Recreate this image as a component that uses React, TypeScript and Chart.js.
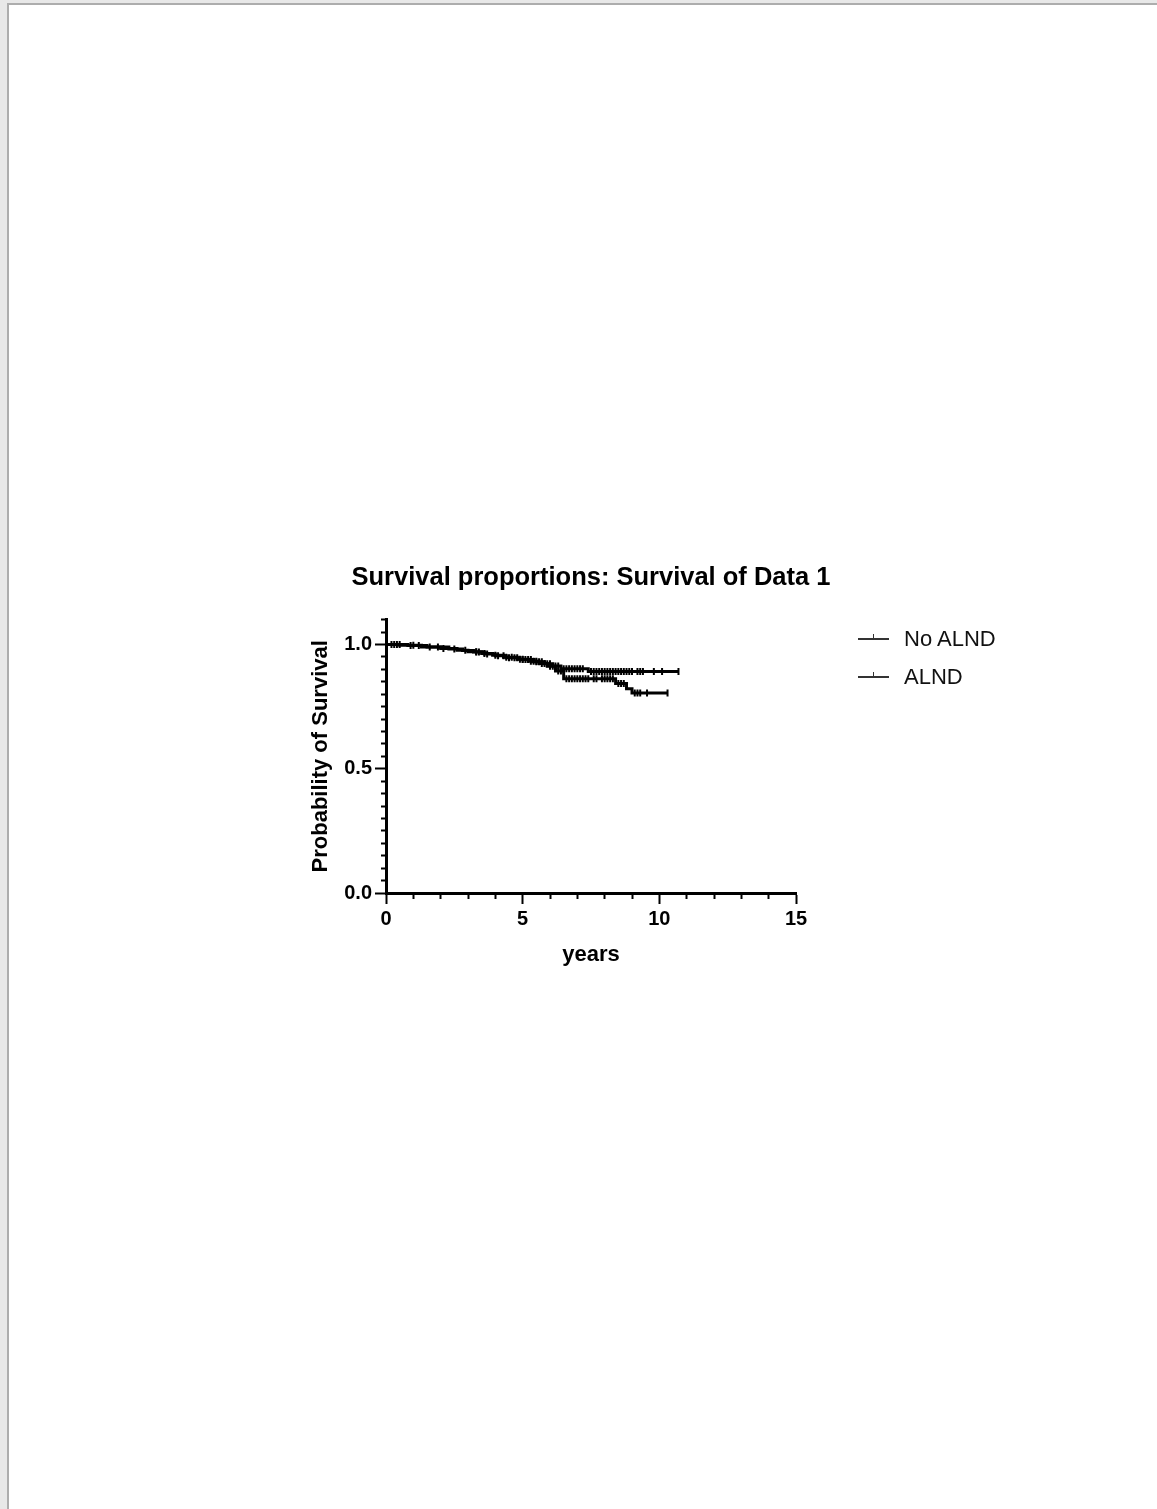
import React, { useEffect, useRef } from 'react';
import { Chart, registerables } from 'chart.js';

Chart.register(...registerables);

const chartTitle = 'Survival proportions: Survival of Data 1';
const xAxisTitle = 'years';
const yAxisTitle = 'Probability of Survival';
const seriesNames = ['No ALND', 'ALND'];

// Kaplan-Meier steps (time in years, survival after the event)
const noAlndEventTimes = [0, 0.8, 1.5, 2.3, 2.8, 3.2, 3.6, 4.0, 4.4, 4.9, 5.4, 5.8, 6.1, 6.4, 7.4];
const noAlndSurvival = [1.0, 0.996, 0.99, 0.982, 0.976, 0.97, 0.962, 0.955, 0.947, 0.939, 0.93, 0.922, 0.913, 0.902, 0.891];
const noAlndCensorTimes = [0.3, 0.5, 0.9, 1.2, 1.9, 2.5, 3.3, 3.4, 3.7, 4.1, 4.3, 4.5, 4.7, 4.8, 5.0, 5.1, 5.2, 5.3, 5.5, 5.6, 5.7, 5.9, 6.0, 6.2, 6.3, 6.5, 6.6, 6.7, 6.8, 6.9, 7.0, 7.1, 7.2, 7.5, 7.6, 7.7, 7.8, 7.9, 8.0, 8.1, 8.2, 8.3, 8.4, 8.5, 8.6, 8.7, 8.8, 8.9, 9.0, 9.2, 9.3, 9.4, 9.8, 10.1, 10.7];

const alndEventTimes = [0, 0.5, 1.3, 2.0, 2.6, 3.0, 3.5, 3.9, 4.3, 4.8, 5.2, 5.6, 5.9, 6.2, 6.5, 8.4, 8.8, 9.0];
const alndSurvival = [1.0, 0.997, 0.99, 0.984, 0.977, 0.971, 0.964, 0.957, 0.949, 0.94, 0.932, 0.923, 0.912, 0.893, 0.862, 0.843, 0.822, 0.805];
const alndCensorTimes = [0.2, 0.4, 1.0, 1.6, 2.1, 2.9, 3.3, 3.6, 4.0, 4.4, 4.6, 4.9, 5.0, 5.3, 5.4, 5.5, 5.7, 5.8, 6.0, 6.1, 6.3, 6.4, 6.6, 6.7, 6.8, 6.9, 7.0, 7.1, 7.2, 7.3, 7.4, 7.6, 7.7, 7.9, 8.0, 8.1, 8.2, 8.3, 8.5, 8.6, 8.7, 9.1, 9.2, 9.3, 9.55, 10.3];

const xMin = 0;
const xMax = 15;
const xMinorStep = 1;
const xLabelStep = 5;
const yMin = 0;
const yMax = 1.1;
const yMinorStep = 0.05;
const yLabelStep = 0.5;

const FONT = '"Liberation Sans", Arial, Helvetica, sans-serif';

function survivalAt(times: number[], surv: number[], t: number) {
  let v = surv[0];
  for (let i = 0; i < times.length; i++) {
    if (times[i] <= t + 1e-9) v = surv[i];
  }
  return v;
}

function curvePoints(times: number[], surv: number[], censors: number[]) {
  const pts = times.map((t, i) => ({ x: t, y: surv[i] }));
  const end = Math.max(...censors);
  if (end > times[times.length - 1]) pts.push({ x: end, y: surv[surv.length - 1] });
  return pts;
}

function censorPoints(times: number[], surv: number[], censors: number[]) {
  return censors.map((t) => ({ x: t, y: survivalAt(times, surv, t) }));
}

function isMultiple(v: number, step: number) {
  const r = v / step;
  return Math.abs(r - Math.round(r)) < 1e-6;
}

export default function App() {
  const canvasRef = useRef<HTMLCanvasElement | null>(null);

  useEffect(() => {
    if (!canvasRef.current) return;
    const groups = [
      { name: seriesNames[0], t: noAlndEventTimes, s: noAlndSurvival, c: noAlndCensorTimes },
      { name: seriesNames[1], t: alndEventTimes, s: alndSurvival, c: alndCensorTimes },
    ];
    const datasets: any[] = [];
    groups.forEach((g) => {
      datasets.push({
        label: g.name,
        data: curvePoints(g.t, g.s, g.c),
        borderColor: '#000',
        backgroundColor: '#000',
        borderWidth: 3,
        stepped: true,
        pointRadius: 0,
        fill: false,
      });
      datasets.push({
        label: g.name + ' censored',
        data: censorPoints(g.t, g.s, g.c),
        showLine: false,
        borderColor: '#000',
        backgroundColor: '#000',
        pointStyle: 'line',
        rotation: 90,
        pointRadius: 3.5,
        pointBorderWidth: 2,
      });
    });

    const chart = new Chart(canvasRef.current, {
      type: 'line',
      data: { datasets },
      options: {
        animation: false,
        responsive: false,
        devicePixelRatio: 1,
        layout: { padding: { left: 10, right: 10, top: 0, bottom: 0 } },
        plugins: {
          legend: { display: false },
          tooltip: { enabled: false },
          title: {
            display: true,
            text: chartTitle,
            color: '#000',
            font: { family: FONT, size: 25.5, weight: 'bold' },
            padding: { top: 13, bottom: 26 },
          },
        },
        scales: {
          x: {
            type: 'linear',
            min: xMin,
            max: xMax,
            position: 'bottom',
            border: { display: true, color: '#000', width: 3 },
            grid: {
              drawOnChartArea: false,
              drawTicks: true,
              tickLength: 11,
              tickWidth: 2,
              tickColor: '#000',
              tickBorderDash: (ctx: any) => (isMultiple(ctx.tick.value, xLabelStep) ? [] : [4, 100]),
            },
            ticks: {
              stepSize: xMinorStep,
              autoSkip: false,
              maxRotation: 0,
              padding: 3,
              color: '#000',
              font: { family: FONT, size: 20, weight: 'bold' },
              callback: (v: any) => (isMultiple(Number(v), xLabelStep) ? String(Math.round(Number(v))) : ''),
            },
            title: {
              display: true,
              text: xAxisTitle,
              color: '#000',
              font: { family: FONT, size: 22, weight: 'bold' },
              padding: { top: 0, bottom: 22 },
            },
            afterFit: (s: any) => {
              s.height = 97;
            },
          },
          y: {
            type: 'linear',
            min: yMin,
            max: yMax,
            position: 'left',
            border: { display: true, color: '#000', width: 3 },
            grid: {
              drawOnChartArea: false,
              drawTicks: true,
              tickLength: 11,
              tickWidth: 2,
              tickColor: '#000',
              tickBorderDash: (ctx: any) => (isMultiple(ctx.tick.value, yLabelStep) ? [] : [0, 6, 4, 100]),
            },
            ticks: {
              stepSize: yMinorStep,
              autoSkip: false,
              padding: 3,
              color: '#000',
              font: { family: FONT, size: 20, weight: 'bold' },
              callback: (v: any) => (isMultiple(Number(v), yLabelStep) ? Number(v).toFixed(1) : ''),
            },
            title: {
              display: true,
              text: yAxisTitle,
              color: '#000',
              font: { family: FONT, size: 22, weight: 'bold' },
              padding: { top: 8, bottom: 0 },
            },
            afterFit: (s: any) => {
              s.width = 86;
            },
          },
          ySpacer: {
            type: 'linear',
            position: 'right',
            display: true,
            min: yMin,
            max: yMax,
            border: { display: false },
            grid: { display: false, drawTicks: false },
            ticks: { display: false },
            afterFit: (s: any) => {
              s.width = 86;
            },
          },
        },
      } as any,
    });
    return () => chart.destroy();
  }, []);

  const legendTop = [639, 677];

  return (
    <div style={{ position: 'fixed', left: 0, top: 0, right: 0, bottom: 0, background: '#e8e8e8', overflow: 'hidden' }}>
      <div
        style={{
          position: 'absolute',
          left: 7,
          top: 3,
          right: -20,
          bottom: -20,
          background: '#fff',
          border: '2px solid #adadad',
        }}
      />
      <canvas ref={canvasRef} width={602} height={440} style={{ position: 'absolute', left: 290, top: 550 }} />
      {seriesNames.map((name, i) => (
        <div key={name}>
          <div style={{ position: 'absolute', left: 858, top: legendTop[i] - 1, width: 31, height: 1.5, background: '#333' }} />
          <div style={{ position: 'absolute', left: 872.5, top: legendTop[i] - 5, width: 1.5, height: 5, background: '#333' }} />
          <div
            style={{
              position: 'absolute',
              left: 904,
              top: legendTop[i] - 13,
              height: 26,
              lineHeight: '26px',
              fontFamily: FONT,
              fontSize: 22,
              color: '#111',
              whiteSpace: 'nowrap',
            }}
          >
            {name}
          </div>
        </div>
      ))}
    </div>
  );
}
